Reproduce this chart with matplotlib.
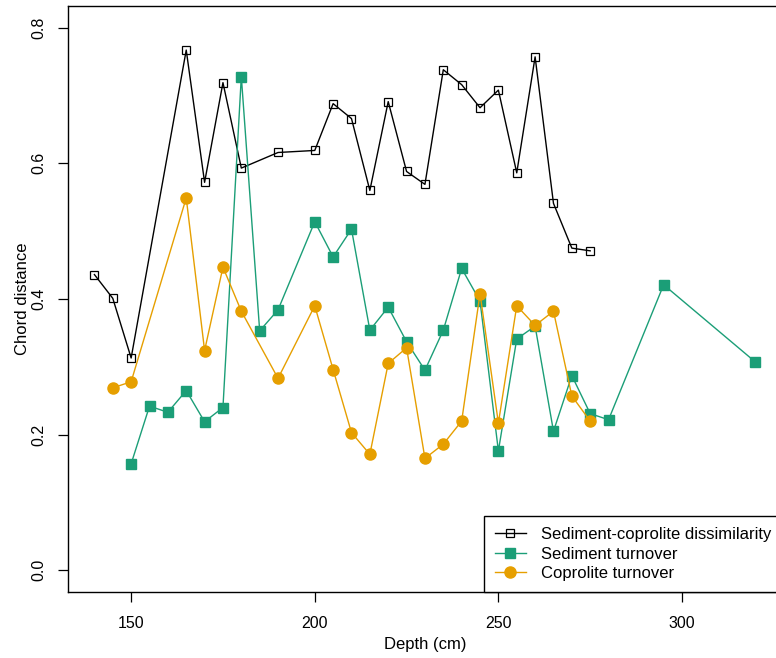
import matplotlib
matplotlib.use('Agg')
import matplotlib.pyplot as plt

plt.rcParams['font.family'] = ['Liberation Sans', 'DejaVu Sans']
plt.rcParams['font.size'] = 12

# Sediment-coprolite dissimilarity
dis_depth = [140, 145, 150, 165, 170, 175, 180, 190, 200, 205, 210, 215, 220,
             225, 230, 235, 240, 245, 250, 255, 260, 265, 270, 275]
dis_value = [0.436, 0.401, 0.313, 0.767, 0.572, 0.719, 0.593, 0.616, 0.619, 0.688,
             0.666, 0.560, 0.691, 0.588, 0.569, 0.738, 0.716, 0.682, 0.708, 0.586,
             0.757, 0.541, 0.475, 0.471]

# Sediment turnover
sed_depth = [150, 155, 160, 165, 170, 175, 180, 185, 190, 200, 205, 210, 215, 220,
             225, 230, 235, 240, 245, 250, 255, 260, 265, 270, 275, 280, 295, 320]
sed_value = [0.157, 0.242, 0.233, 0.265, 0.219, 0.240, 0.728, 0.353, 0.384, 0.514,
             0.462, 0.503, 0.354, 0.388, 0.337, 0.295, 0.354, 0.445, 0.397, 0.176,
             0.341, 0.360, 0.205, 0.287, 0.231, 0.222, 0.421, 0.307]

# Coprolite turnover
cop_depth = [145, 150, 165, 170, 175, 180, 190, 200, 205, 210, 215, 220, 225, 230,
             235, 240, 245, 250, 255, 260, 265, 270, 275]
cop_value = [0.269, 0.278, 0.549, 0.324, 0.447, 0.382, 0.283, 0.390, 0.296, 0.203,
             0.171, 0.305, 0.328, 0.165, 0.186, 0.220, 0.408, 0.217, 0.390, 0.361,
             0.382, 0.257, 0.220]

x_ticks = [150, 200, 250, 300]
y_ticks = [0.0, 0.2, 0.4, 0.6, 0.8]
y_ticklabels = ['0.0', '0.2', '0.4', '0.6', '0.8']

green = '#1B9E77'
orange = '#E69F00'

fig = plt.figure(figsize=(7.76, 6.58), dpi=100)
# plot box runs a little past the right edge of the picture, as in the original
ax = fig.add_axes([0.0876, 0.1003, 0.920, 0.8906])

ax.plot(dis_depth, dis_value, color='black', lw=1.0, marker='s', ms=5.5,
        mfc='none', mec='black', mew=0.9, label='Sediment-coprolite dissimilarity')
ax.plot(sed_depth, sed_value, color=green, lw=1.0, marker='s', ms=7.2,
        mfc=green, mec=green, label='Sediment turnover')
ax.plot(cop_depth, cop_value, color=orange, lw=1.0, marker='o', ms=8,
        mfc=orange, mec=orange, label='Coprolite turnover')

ax.set_xlim(132.8, 327.2)
ax.set_ylim(-0.032, 0.832)
ax.set_xticks(x_ticks)
ax.set_yticks(y_ticks)
ax.set_yticklabels(y_ticklabels, rotation=90, va='center')
ax.tick_params(direction='out', length=7.5, width=0.9, labelsize=11.5)
ax.tick_params(axis='x', pad=10)
ax.tick_params(axis='y', pad=8)
for s in ax.spines.values():
    s.set_linewidth(1.0)

ax.set_xlabel('Depth (cm)', fontsize=12, va='center')
ax.xaxis.set_label_coords(0.5, -0.09)
ax.set_ylabel('Chord distance', fontsize=12, va='center')
ax.yaxis.set_label_coords(-0.064, 0.5)

leg = ax.legend(loc='lower right', bbox_to_anchor=(1.0, 0.0), borderaxespad=0,
                fancybox=False, edgecolor='black', framealpha=1, fontsize=12,
                handlelength=1.86, handletextpad=0.9, labelspacing=0.28,
                borderpad=0.65)
leg.get_frame().set_linewidth(1.0)

fig.savefig('out.png', dpi=100)
